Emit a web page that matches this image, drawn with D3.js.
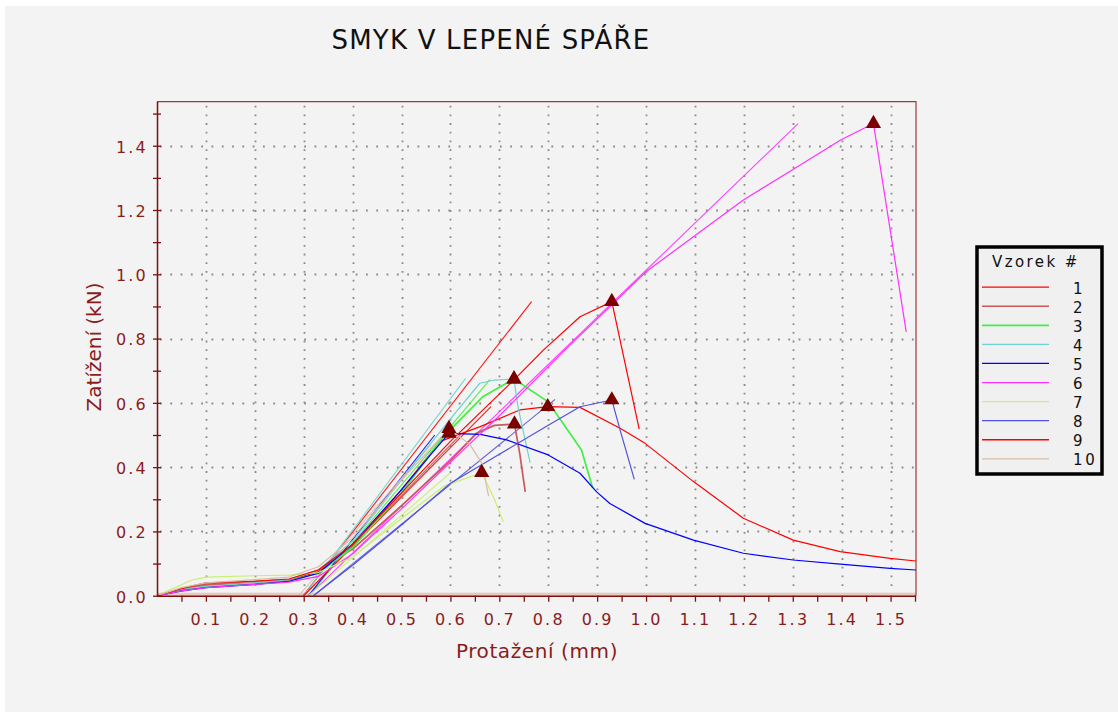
<!DOCTYPE html>
<html>
<head>
<meta charset="utf-8">
<script src="https://cdn.jsdelivr.net/npm/d3@7"></script>
<style>
  html, body { margin: 0; padding: 0; background: #ffffff; }
  svg { display: block; font-family: "DejaVu Sans", Verdana, sans-serif; }
</style>
</head>
<body>
<svg id="chart" width="1118" height="712"></svg>
<script>
// Shear test of glued joints: load vs. elongation for ten specimens
const chartTitle = "SMYK V LEPENÉ SPÁŘE";
const xTitle = "Protažení (mm)";
const yTitle = "Zatížení (kN)";

const sampleIds = ["1", "2", "3", "4", "5", "6", "7", "8", "9", "10"];
const sampleColors = ["#ff0000", "#c85a5a", "#44ee44", "#70d2d2", "#0000ff",
                      "#ff30ff", "#c8f070", "#5252dc", "#ff0000", "#d8bca6"];

const xMajorTicks = [0.1, 0.2, 0.3, 0.4, 0.5, 0.6, 0.7, 0.8, 0.9, 1.0, 1.1, 1.2, 1.3, 1.4, 1.5];
const xMinorTicks = [0.05, 0.15, 0.25, 0.35, 0.45, 0.55, 0.65, 0.75, 0.85, 0.95, 1.05, 1.15, 1.25, 1.35, 1.45, 1.55];
const yMajorTicks = [0.0, 0.2, 0.4, 0.6, 0.8, 1.0, 1.2, 1.4];
const yMinorTicks = [0.1, 0.3, 0.5, 0.7, 0.9, 1.1, 1.3, 1.5];

// measured curves [elongation mm, load kN]
const curve1 = [[0,0],[0.05,0.018],[0.1,0.032],[0.2,0.04],[0.27,0.048],[0.33,0.075],[0.4,0.15],[0.5,0.33],
  [0.579,0.48],[0.661,0.526],[0.742,0.578],[0.799,0.588],[0.865,0.586],[0.947,0.521],[0.998,0.474],
  [1.097,0.355],[1.199,0.241],[1.301,0.173],[1.397,0.137],[1.499,0.116],[1.552,0.108]];
const curve2 = [[0,0],[0.05,0.02],[0.1,0.035],[0.2,0.045],[0.27,0.05],[0.33,0.08],[0.4,0.145],[0.5,0.28],
  [0.6,0.42],[0.653,0.505],[0.69,0.53],[0.731,0.534],[0.742,0.44],[0.753,0.323]];
const curve3 = [[0,0],[0.05,0.015],[0.1,0.028],[0.2,0.036],[0.27,0.045],[0.33,0.07],[0.4,0.15],[0.5,0.32],
  [0.586,0.495],[0.667,0.62],[0.73,0.674],[0.8,0.603],[0.868,0.453],[0.891,0.334]];
const curve4 = [[0,0],[0.05,0.02],[0.1,0.03],[0.2,0.04],[0.27,0.05],[0.33,0.08],[0.4,0.17],[0.5,0.36],
  [0.6,0.55],[0.66,0.661],[0.69,0.671],[0.73,0.674],[0.738,0.588],[0.763,0.413]];
const curve5 = [[0,0],[0.05,0.015],[0.1,0.025],[0.2,0.035],[0.27,0.045],[0.33,0.07],[0.4,0.16],[0.5,0.33],
  [0.56,0.44],[0.597,0.505],[0.661,0.502],[0.715,0.485],[0.8,0.438],[0.865,0.381],[0.899,0.323],
  [0.926,0.287],[0.998,0.225],[1.097,0.173],[1.199,0.132],[1.301,0.111],[1.397,0.098],[1.499,0.085],[1.552,0.08]];
const curve6 = [[0,0],[0.05,0.015],[0.1,0.025],[0.2,0.035],[0.27,0.042],[0.33,0.06],[0.4,0.13],[0.5,0.27],
  [0.6,0.415],[0.7,0.56],[0.834,0.764],[0.93,0.905],[1.0,1.008],[1.097,1.117],[1.199,1.231],[1.298,1.324],
  [1.397,1.417],[1.465,1.469],[1.532,0.821]];
const curve7 = [[0,0],[0.07,0.048],[0.1,0.058],[0.2,0.062],[0.27,0.064],[0.33,0.072],[0.4,0.12],[0.5,0.24],
  [0.586,0.34],[0.664,0.383],[0.69,0.30],[0.708,0.23]];
const curve8 = [[0.32,0],[0.4,0.095],[0.5,0.22],[0.6,0.35],[0.7,0.44],[0.8,0.53],[0.865,0.588],[0.93,0.609],
  [0.947,0.515],[0.976,0.362]];
const curve9 = [[0,0],[0.05,0.022],[0.1,0.04],[0.2,0.045],[0.27,0.052],[0.33,0.08],[0.4,0.16],[0.5,0.32],
  [0.6,0.48],[0.729,0.67],[0.79,0.764],[0.865,0.868],[0.93,0.915],[0.986,0.518]];
const curve10 = [[0,0],[0.05,0.025],[0.1,0.04],[0.2,0.05],[0.27,0.058],[0.33,0.09],[0.4,0.18],[0.5,0.36],
  [0.597,0.52],[0.64,0.47],[0.665,0.41],[0.678,0.31]];

// linear stiffness fits [start, end]
const fit1 = [[0.299,0],[0.766,0.915]];
const fit2 = [[0.30,0],[0.62,0.50]];
const fit3 = [[0.31,0],[0.681,0.673]];
const fit4 = [[0.30,0],[0.631,0.676]];
const fit5 = [[0.31,0],[0.568,0.50]];
const fit6 = [[0.31,0],[1.311,1.469]];
const fit7 = [[0.31,0],[0.599,0.381]];
const fit8 = [[0.32,0],[0.814,0.611]];
const fit9 = [[0.30,0],[0.683,0.588]];
const fit10 = [[0.29,0],[0.56,0.47]];

const curves = [curve1, curve2, curve3, curve4, curve5, curve6, curve7, curve8, curve9, curve10];
const fits = [fit1, fit2, fit3, fit4, fit5, fit6, fit7, fit8, fit9, fit10];

const svg = d3.select("#chart");
const plot = { left: 157, right: 916, top: 101.7, bottom: 595.7 };
const axisColor = "#7d0f0f";
const labelColor = "#8a1c1c";

svg.append("rect").attr("x", 5).attr("y", 6).attr("width", 1113).attr("height", 706).attr("fill", "#f3f3f3");

const x = d3.scaleLinear().domain([0, 1.552]).range([plot.left, plot.right]);
const y = d3.scaleLinear().domain([0, 1.537]).range([plot.bottom, plot.top]);

// title
svg.append("text").attr("x", 491).attr("y", 49).attr("text-anchor", "middle")
  .attr("font-size", 26).attr("letter-spacing", 1.2).attr("fill", "#111").text(chartTitle);

// grid
const grid = svg.append("g").attr("stroke", "#8a8a8a").attr("stroke-width", 1.8);
grid.selectAll("line.v").data(xMajorTicks).join("line")
  .attr("x1", d => Math.round(x(d)) + 0.5).attr("x2", d => Math.round(x(d)) + 0.5)
  .attr("y1", plot.top + 4).attr("y2", plot.bottom)
  .attr("stroke-dasharray", "1.8,6.9");
grid.selectAll("line.h").data(yMajorTicks.filter(d => d > 0)).join("line")
  .attr("x1", plot.left + 3).attr("x2", plot.right)
  .attr("y1", d => Math.round(y(d)) + 0.5).attr("y2", d => Math.round(y(d)) + 0.5)
  .attr("stroke-dasharray", "1.8,8.5");

// band along the zero-load line
svg.append("rect").attr("x", plot.left).attr("y", plot.bottom - 3)
  .attr("width", plot.right - plot.left).attr("height", 3).attr("fill", "#e5c8be");

// frame (top and right)
svg.append("path")
  .attr("d", `M${plot.left},${plot.top}H${plot.right}V${plot.bottom}`)
  .attr("fill", "none").attr("stroke", "#a03a3a").attr("stroke-width", 1.2);

// data
svg.append("clipPath").attr("id", "plotclip").append("rect")
  .attr("x", plot.left).attr("y", plot.top - 10)
  .attr("width", plot.right - plot.left).attr("height", plot.bottom - plot.top + 10);

const line = d3.line().x(d => x(d[0])).y(d => y(d[1]));
const data = svg.append("g").attr("clip-path", "url(#plotclip)").attr("fill", "none");

data.selectAll("path.fit").data(fits).join("path")
  .attr("class", "fit").attr("d", line)
  .attr("stroke", (d, i) => sampleColors[i]).attr("stroke-width", 1.1).attr("opacity", 0.9);

data.selectAll("path.curve").data(curves).join("path")
  .attr("class", "curve").attr("d", line)
  .attr("stroke", (d, i) => sampleColors[i])
  .attr("stroke-width", (d, i) => (i === 1 || i === 2) ? 1.7 : 1.2)
  .attr("stroke-linejoin", "round");

// peak markers
const peaks = curves.map(c => d3.greatest(c, d => d[1]));
svg.append("g").selectAll("path").data(peaks).join("path")
  .attr("transform", d => `translate(${x(d[0])},${y(d[1])})`)
  .attr("d", d3.symbol(d3.symbolTriangle, 100))
  .attr("fill", "#7a0000");

// x axis
const xAxis = svg.append("g").attr("transform", `translate(0,${plot.bottom})`)
  .call(d3.axisBottom(x).tickValues(xMajorTicks.concat(xMinorTicks))
    .tickFormat(d => xMajorTicks.includes(d) ? d3.format(".1f")(d) : "")
    .tickSizeInner(6).tickSizeOuter(0).tickPadding(12));
xAxis.select(".domain").attr("stroke", axisColor).attr("stroke-width", 1.5)
  .attr("d", `M${plot.left},0.5H${plot.right}`);
xAxis.selectAll(".tick line").attr("stroke", axisColor).attr("stroke-width", 1.3);
xAxis.selectAll(".tick text").attr("font-size", 16).attr("letter-spacing", 2.2)
  .attr("fill", labelColor).attr("font-family", "DejaVu Sans, Verdana, sans-serif");

// y axis
const yAxis = svg.append("g").attr("transform", `translate(${plot.left},0)`)
  .call(d3.axisLeft(y).tickValues(yMajorTicks.concat(yMinorTicks))
    .tickFormat(d => yMajorTicks.includes(d) ? d3.format(".1f")(d) : "")
    .tickSizeInner(4).tickSizeOuter(0).tickPadding(5));
yAxis.select(".domain").attr("stroke", axisColor).attr("stroke-width", 1.5)
  .attr("d", `M0.5,${plot.top}V${plot.bottom + 1}`);
yAxis.selectAll(".tick line").attr("stroke", axisColor).attr("stroke-width", 1.3).attr("x2", -4).attr("x1", 4);
yAxis.selectAll(".tick text").attr("font-size", 16).attr("letter-spacing", 2.2)
  .attr("fill", labelColor).attr("dy", "0.4em").attr("font-family", "DejaVu Sans, Verdana, sans-serif");

// axis titles
svg.append("text").attr("x", 537).attr("y", 658).attr("text-anchor", "middle")
  .attr("font-size", 20).attr("letter-spacing", 0.6).attr("fill", labelColor).text(xTitle);
svg.append("text").attr("transform", "translate(101,347) rotate(-90)").attr("text-anchor", "middle")
  .attr("font-size", 20).attr("fill", labelColor).text(yTitle);

// legend
const legend = svg.append("g");
legend.append("rect").attr("x", 977).attr("y", 247).attr("width", 125).attr("height", 227)
  .attr("fill", "#f0f0f0").attr("stroke", "#000").attr("stroke-width", 3.5);
legend.append("text").attr("x", 992).attr("y", 267).attr("font-size", 15).attr("letter-spacing", 2.4)
  .attr("fill", "#111").text("Vzorek #");
const rowY = d3.scalePoint().domain(sampleIds).range([286.7, 458.3]);
const rows = legend.selectAll("g.row").data(sampleIds).join("g").attr("class", "row")
  .attr("transform", d => `translate(0,${rowY(d)})`);
rows.append("line").attr("x1", 982).attr("x2", 1049).attr("y1", 0.5).attr("y2", 0.5)
  .attr("stroke", (d, i) => sampleColors[i]).attr("stroke-width", (d, i) => i === 2 ? 1.8 : 1.3);
rows.append("text").attr("x", 1073).attr("y", 7).attr("font-size", 15).attr("letter-spacing", 2.6)
  .attr("fill", "#111").text(d => d);
</script>
</body>
</html>
